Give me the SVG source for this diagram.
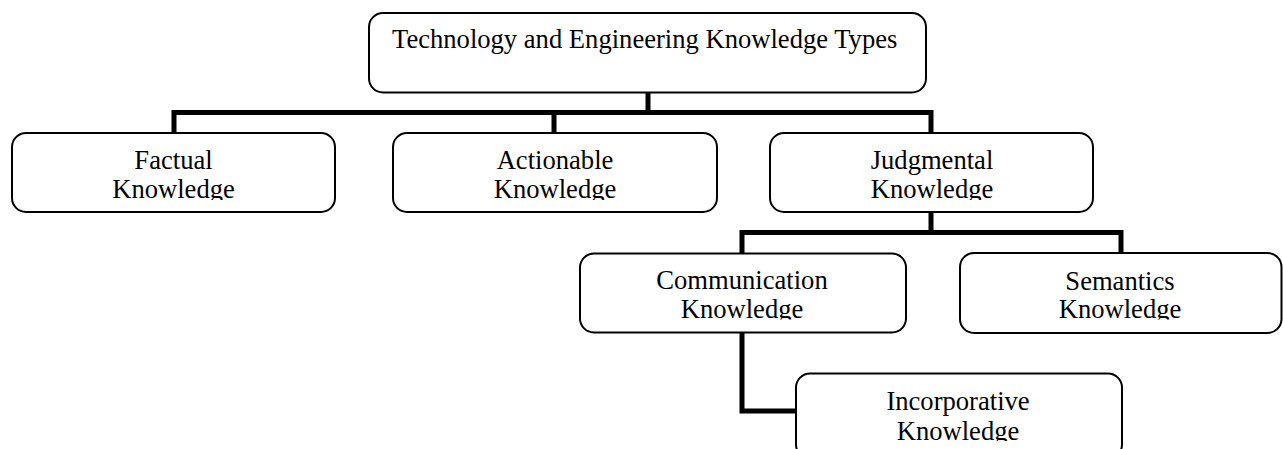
<svg xmlns="http://www.w3.org/2000/svg" width="1283" height="449" viewBox="0 0 1283 449">
<style>
.box{fill:#fff;stroke:#000;stroke-width:2}
.t{font-family:"Liberation Serif","Times New Roman",serif;font-size:26.6px;fill:#000}
.c{text-anchor:middle}
.bus{fill:none;stroke:#000;stroke-width:5;stroke-linejoin:miter}
</style>
<defs>
<clipPath id="cf"><rect x="0" y="120" width="1283" height="80"/></clipPath>
<clipPath id="cm"><rect x="0" y="255" width="1283" height="64.5"/></clipPath>
<clipPath id="ci"><rect x="0" y="375" width="1283" height="66"/></clipPath>
</defs>
<rect width="1283" height="449" fill="#fff"/>
<g id="connectors">
<path class="bus" d="M174,133 V112.5 H931 V133"/>
<path class="bus" d="M648,92 V112.5"/>
<path class="bus" d="M554,112.5 V133"/>
<path class="bus" d="M931,212 V232.5"/>
<path class="bus" d="M742,253 V232.5 H1121 V253"/>
<path class="bus" d="M742,333 V411 H796"/>
</g>
<g id="root">
<rect class="box" x="369" y="13" width="557" height="79.5" rx="14"/>
<text class="t" x="392" y="48">Technology and Engineering Knowledge Types</text>
</g>
<g id="factual">
<rect class="box" x="12" y="133" width="323" height="79" rx="14"/>
<g clip-path="url(#cf)"><text class="t c" x="173.5" y="169">Factual</text><text class="t c" x="173.5" y="198">Knowledge</text></g>
</g>
<g id="actionable">
<rect class="box" x="393" y="133" width="324" height="79" rx="14"/>
<g clip-path="url(#cf)"><text class="t c" x="555" y="169">Actionable</text><text class="t c" x="555" y="198">Knowledge</text></g>
</g>
<g id="judgmental">
<rect class="box" x="770" y="133" width="323" height="79" rx="14"/>
<g clip-path="url(#cf)"><text class="t c" x="932" y="169">Judgmental</text><text class="t c" x="932" y="198">Knowledge</text></g>
</g>
<g id="communication">
<rect class="box" x="580" y="253.5" width="326" height="79" rx="14"/>
<g clip-path="url(#cm)"><text class="t c" x="742" y="289">Communication</text><text class="t c" x="742" y="318">Knowledge</text></g>
</g>
<g id="semantics">
<rect class="box" x="960" y="253" width="321.5" height="80" rx="14"/>
<g clip-path="url(#cm)"><text class="t c" x="1120" y="289.5">Semantics</text><text class="t c" x="1120" y="318">Knowledge</text></g>
</g>
<g id="incorporative">
<rect class="box" x="796" y="373.5" width="326" height="85" rx="14"/>
<g clip-path="url(#ci)"><text class="t c" x="958" y="410">Incorporative</text><text class="t c" x="958" y="440">Knowledge</text></g>
</g>
</svg>
